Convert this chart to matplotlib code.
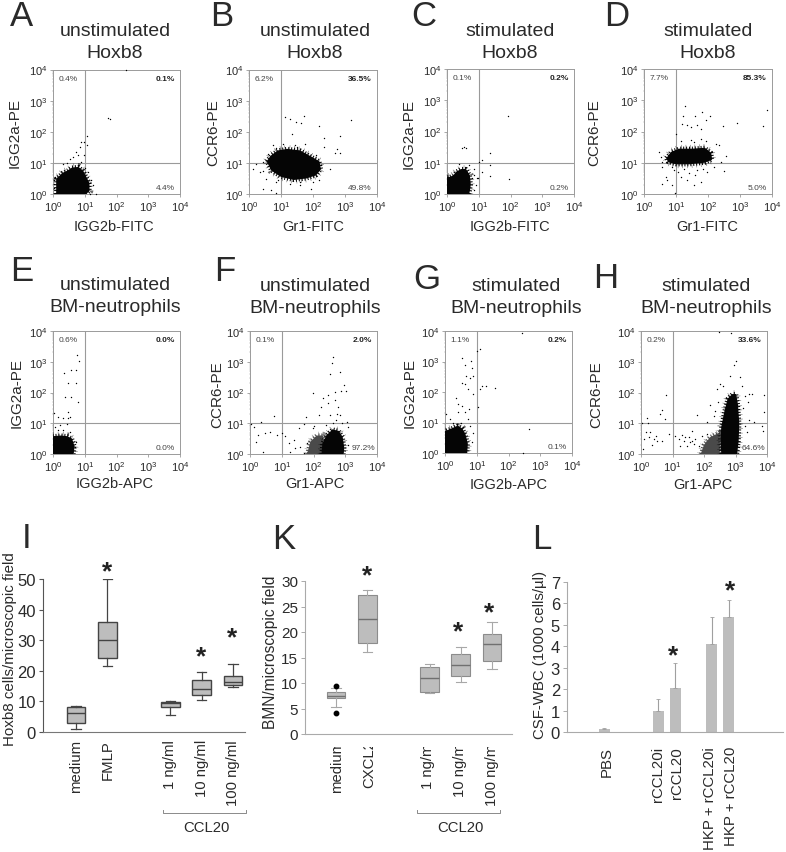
import matplotlib
matplotlib.use('Agg')
import numpy as np
import matplotlib.pyplot as plt
from matplotlib.lines import Line2D
from matplotlib.transforms import Affine2D, Bbox
from matplotlib.ticker import LogLocator, NullFormatter, FixedLocator

plt.rcParams['font.family'] = ['Liberation Sans', 'DejaVu Sans']
plt.rcParams['mathtext.fontset'] = 'custom'
plt.rcParams['mathtext.rm'] = 'Liberation Sans'
plt.rcParams['mathtext.default'] = 'regular'

W, H = 786, 853
TXT = '#2a2a2a'
AXC = '#9a9a9a'

# flow panels: dense population outlines, half dense regions and single events, all in decades
A_dense = [(.1,0),(.1,.5),(.2,.58),(.3,.68),(.45,.75),(.6,.85),(.8,.87),(.95,.75),(1.05,.55),(1.15,.35),(1.15,.1),(1.05,0)]
A_events = [(1.72,2.44),(1.8,2.4),(2.3,4),(1.07,1.85),(.89,1.67),(1.07,1.56),(.99,1.67),(.8,1.24),(.62,1.19),(.89,1.03),
            (.97,1.24),(.73,1.35),(.52,1.13),(.85,1.5),(1.2,.44),(1.35,0),(1.15,0),(1.25,.3),(.3,.95),(.45,.98),(1.1,.7),(1.0,.82),
            (.02,.45),(.04,.2),(.05,.55),(.03,.32)]

B_dense = [(.55,1.05),(.7,1.25),(.9,1.4),(1.2,1.45),(1.6,1.4),(1.95,1.2),(2.2,1.05),(2.25,.8),(2.1,.6),(1.8,.5),(1.4,.45),(1.0,.55),(.7,.75)]
B_events = [(1.11,2.47),(1.27,2.4),(1.48,2.31),(1.61,2.28),(1.72,2.52),(2.2,2.2),(3.2,2.38),(1.35,1.94),(2.33,1.8),(2.85,1.86),
            (2.35,1.51),(2.75,1.45),(2.68,1.33),(2.85,1.33),(.12,.81),(.33,.7),(.44,1.03),(.23,.97),(.7,.12),(.85,.04),(.44,.15),
            (1.58,.28),(1.95,.17),(2.2,.44),(2.52,.81),(1.06,1.61),(1.43,1.56),(1.74,1.61),(.75,1.56),(2.1,1.24),(2.26,.92),
            (.54,.49),(.85,.38),(1.27,.33),(.9,.45),(1.6,.38),(2.0,.4),(.45,.75),(.6,1.3),(.85,1.48),(1.5,1.5)]

C_dense = [(0,0),(0,.55),(.1,.55),(.2,.6),(.3,.72),(.45,.8),(.6,.8),(.72,.6),(.75,.3),(.72,.1),(.7,0)]
C_events = [(1.92,2.49),(.47,1.47),(.59,1.48),(.52,1.49),(1.37,1.31),(1.11,1.08),(1,1.03),(1.37,.94),(1.11,.71),(1.94,.49),
            (1.35,.58),(.95,.52),(.85,.81),(.69,.92),(.38,.95),(.85,.13),(.98,.5),(.8,.5),(.85,.6),(.9,.3)]

D_dense = [(.7,1.15),(.85,1.35),(1.1,1.45),(1.5,1.45),(1.9,1.48),(2.1,1.32),(2.13,1.1),(1.9,1.0),(1.4,.95),(1,.95),(.75,1.02)]
D_events = [(1.28,2.83),(1.23,2.51),(1.59,2.49),(1.82,2.61),(2.06,2.49),(1.18,2.24),(1.35,2.21),(1.46,2.14),(1.67,2.21),
            (1.93,2.38),(2.47,2.19),(2.9,2.26),(3.72,2.19),(3.85,2.7),(.99,1.93),(1.77,2.08),(.52,1.18),(.47,1.34),(.57,1.03),
            (.57,.87),(.68,.55),(.73,.44),(.57,.32),(.89,.29),(.97,.04),(1.15,.55),(1.35,.44),(1.56,.29),(1.77,.39),(.94,.76),
            (1.25,.81),(1.67,.76),(1.98,.71),(2.19,.87),(2.5,.74),(2.55,1.21),(2.4,1.03),(2.34,1.56),(1.77,1.77),(1.46,1.72),
            (1.15,1.69),(.89,.87),(1.05,.7),(1.4,.68),(1.6,.62),(1.85,.8),(1.55,1.65),(1.95,1.7),(2.25,1.6)]

E_dense = [(0,0),(0,.58),(.25,.6),(.45,.58),(.6,.5),(.68,.25),(.65,0)]
E_events = [(.77,3.21),(.83,3.02),(.34,2.65),(.56,2.72),(.71,2.72),(.46,2.31),(.71,2.31),(.39,1.86),(.56,1.84),(.78,1.7),
            (.48,1.37),(.46,1.18),(.55,1.21),(.02,1.32),(.16,1.19),(.32,1.16),(.21,.94),(.05,.89),(.43,.96),(.32,.78),(.16,.78),
            (.53,.72),(.72,.4),(.69,.24)]

F_dense = [(2.25,0),(2.28,.35),(2.4,.6),(2.6,.8),(2.8,.75),(2.92,.55),(2.97,.2),(2.95,0)]
F_half = [(1.8,0),(1.9,.4),(2.1,.6),(2.3,.6),(2.3,0)]
F_events = [(2.61,3.15),(2.58,2.96),(2.51,2.61),(2.85,2.68),(1.99,2),(2.96,2.23),(2.88,2.05),(3.01,2.05),(2.67,2.01),(2.45,1.92),
            (2.29,1.82),(2.67,1.76),(2.24,1.54),(2.45,1.65),(2.77,1.54),(2.18,1.27),(2.51,1.27),(2.83,1.27),(3.04,1.05),(3.1,.89),
            (1.75,1.2),(1.7,.97),(1.54,.84),(.76,1.22),(.35,1.05),(.03,.97),(.14,.89),(.25,.62),(.46,.67),(.62,.73),(.84,.62),
            (.19,.38),(.41,.08),(1,.67),(1.11,.57),(1.22,.35),(1.38,.46),(1.43,.18),(1.27,.08),(1.59,.24),(1.7,.02),(1.81,.35),
            (1.97,.84),(2.02,.92),(3.1,.29),(2.6,1.0),(2.7,1.1),(2.9,1.0),(2.4,.95),(2.75,1.3)]

G_dense = [(0,0),(0,.72),(.2,.8),(.4,.9),(.55,.8),(.65,.6),(.72,.3),(.7,0)]
G_events = [(1.1,3.42),(1.02,3.36),(2.42,3.93),(.53,3.12),(.82,3.01),(.63,2.88),(.86,2.79),(.66,2.54),(.89,2.54),(.79,2.47),
            (.53,2.3),(.63,2.25),(.74,2.09),(.89,1.92),(1.1,2.09),(1.16,2.2),(1.29,2.2),(1.58,2.13),(1.05,1.52),(.34,1.79),
            (.42,1.6),(.53,1.54),(.76,1.43),(.63,1.33),(.42,1.33),(.03,1.27),(.16,1.11),(2.66,.78),(2.47,0),(.89,.67),(.79,.89),
            (.74,1.11),(.84,.35),(.5,1.0),(.25,.98)]

H_dense = [(2.55,0),(2.52,.5),(2.55,.9),(2.65,1.4),(2.75,1.8),(2.9,1.95),(3.02,1.95),(3.08,1.6),(3.12,1),(3.1,.4),(3.05,0)]
H_half = [(1.9,0),(2.0,.3),(2.2,.55),(2.5,.7),(2.5,0)]
H_events = [(3.03,3.04),(2.94,2.88),(2.47,3.97),(2.86,3.92),(2.84,2.55),(2.52,2.28),(3.15,2.5),(3.42,1.96),(3.52,1.96),(3.92,1.92),
            (3.39,1.68),(3.92,1.36),(3.42,1.09),(3.58,1.03),(3.84,.92),(3.87,.76),(3.31,.92),(3.37,.71),(.8,1.93),(.67,1.43),
            (.61,1.3),(.77,1.14),(.19,1.17),(.03,1),(.21,1.01),(.3,.71),(.24,.54),(.4,.49),(.51,.43),(.08,.49),(.05,.16),(.67,.43),
            (.88,.65),(1.09,.6),(1.25,.27),(1.35,.43),(1.51,.54),(1.62,.43),(1.72,.49),(1.46,.27),(1.83,.27),(1.94,.6),(1.62,.76),
            (1.78,1.27),(2.2,1.58),(2.31,1.25),(2.62,1.03),(2.1,1.03),(2.1,.65),(1.4,.55),(1.55,.4),(1.3,.62),(1.68,.32),(1.2,.5),
            (.35,.3),(.48,.58),(.15,.7),(2.4,2.1),(2.6,2.2),(2.45,1.7),(2.35,1.4),(3.25,1.5),(3.3,1.9),(3.2,2.2)]

flow_names = ['A','B','C','D','E','F','G','H']
flow_dense = [A_dense,B_dense,C_dense,D_dense,E_dense,F_dense,G_dense,H_dense]
flow_half = [None,None,None,None,None,F_half,None,H_half]
flow_events = [A_events,B_events,C_events,D_events,E_events,F_events,G_events,H_events]
flow_top = ['unstimulated','unstimulated','stimulated','stimulated','unstimulated','unstimulated','stimulated','stimulated']
flow_bottom = ['Hoxb8']*4 + ['BM-neutrophils']*4
flow_xlabels = ['IGG2b-FITC','Gr1-FITC','IGG2b-FITC','Gr1-FITC','IGG2b-APC','Gr1-APC','IGG2b-APC','Gr1-APC']
flow_ylabels = ['IGG2a-PE','CCR6-PE','IGG2a-PE','CCR6-PE','IGG2a-PE','CCR6-PE','IGG2a-PE','CCR6-PE']
pct_ul = ['0.4%','6.2%','0.1%','7.7%','0.6%','0.1%','1.1%','0.2%']
pct_ur = ['0.1%','36.5%','0.2%','85.3%','0.0%','2.0%','0.2%','33.6%']
pct_lr = ['4.4%','49.8%','0.2%','5.0%','0.0%','97.2%','0.1%','64.6%']

# box panels: whisker low, q1, median, q3, whisker high
I_names = ['medium','FMLP','1 ng/ml','10 ng/ml','100 ng/ml']
I_stats = [(1,3,6.2,8,8.5),(21.5,24,30,36,50),(5.5,8.2,9.5,9.8,10.2),(10.5,12,14,17,19.7),(14.8,15.2,16.2,18.3,22.3)]
I_ticks = [0,10,20,30,40,50]

K_names = ['medium','CXCL2','1 ng/ml','10 ng/ml','100 ng/ml']
K_stats = [(5.2,7,7.5,8.2,9.1),(16.1,17.9,22.5,27.3,28.2),(8,8.2,11,13.2,13.8),(10.2,11.3,13.5,15.6,17.1),(12.8,14.3,17.7,19.7,22)]
K_fliers = [(9.5,4.1),(),(),(),()]
K_ticks = [0,5,10,15,20,25,30]

L_names = ['PBS','rCCL20i','rCCL20','HKP + rCCL20i','HKP + rCCL20']
L_means = [0.13,0.97,2.05,4.1,5.35]
L_errs = [0.05,0.55,1.15,1.25,0.8]
L_ticks = [0,1,2,3,4,5,6,7]

fig = plt.figure(figsize=(W/100, H/100), dpi=100)
# pixels measured from the top left corner of the picture
px = Affine2D().scale(1/W, -1/H).translate(0, 1) + fig.transFigure


def new_axes(x0, y0, x1, y1):
    return fig.add_axes([x0/W, 1-y1/H, (x1-x0)/W, (y1-y0)/H])


def label(x, y, s, size=10.5, **kw):
    kw.setdefault('ha', 'center')
    kw.setdefault('va', 'center')
    kw.setdefault('color', TXT)
    return fig.text(x, y, s, transform=px, fontsize=size, **kw)


def bracket(x0, x1, y):
    fig.add_artist(Line2D([x0, x0, x1, x1], [y-3, y, y, y-3], transform=px, color='#8a8a8a', lw=0.7))


def cloud(ax, outline, color, z):
    # solid region plus a broken edge so it does not read as a clean shape
    ox, oy = zip(*outline)
    ox = 10**np.array(ox + ox[:1])
    oy = 10**np.array(oy + oy[:1])
    ax.fill(ox, oy, color=color, lw=0, zorder=z)
    ax.plot(ox, oy, color=color, lw=3, ls=(0, (0.25, 0.45)), zorder=z)
    ax.plot(ox, oy, color=color, lw=5.5, ls=(0, (0.07, 0.53)), alpha=0.6, zorder=z)


flow_boxes = [(53,70.5,180,195),(249,70.5,377,195),(447,70,574,195),(644,70,772,195),
              (53,332,180,455),(250,332,377,455),(445,332,572,454),(641,332,767,455)]
for i, name in enumerate(flow_names):
    ax = new_axes(*flow_boxes[i])
    ax.set_xscale('log')
    ax.set_yscale('log')
    ax.axvline(10, color=AXC, lw=0.8, zorder=1)
    ax.axhline(10, color=AXC, lw=0.8, zorder=1)
    if flow_half[i] is not None:
        cloud(ax, flow_half[i], '#4a4a4a', 2)
    cloud(ax, flow_dense[i], '#050505', 3)
    ex, ey = zip(*flow_events[i])
    ax.scatter(10**np.array(ex), 10**np.array(ey), s=1.0, c='black', lw=0, zorder=4, clip_on=False)
    ax.set_xlim(1, 1e4)
    ax.set_ylim(1, 1e4)
    ax.tick_params(which='major', length=2, width=0.6, color=AXC, labelsize=8, labelcolor=TXT, pad=2)
    ax.tick_params(which='minor', length=1, width=0.3, color=AXC)
    ax.xaxis.set_major_locator(LogLocator(base=10, numticks=6))
    ax.yaxis.set_major_locator(LogLocator(base=10, numticks=6))
    ax.xaxis.set_minor_formatter(NullFormatter())
    ax.yaxis.set_minor_formatter(NullFormatter())
    for s in ax.spines.values():
        s.set_color(AXC)
        s.set_linewidth(0.7)
    ax.text(.117, .93, pct_ul[i], transform=ax.transAxes, fontsize=6, color='#444444', ha='center', va='center')
    ax.text(.96, .93, pct_ur[i], transform=ax.transAxes, fontsize=6, color='#222222', ha='right', va='center', fontweight='bold', zorder=6)
    ax.text(.99 if i in (5, 7) else .96, .055, pct_lr[i], transform=ax.transAxes, fontsize=6, color='#444444', ha='right', va='center', zorder=6)

title_x = [115,315,510,708,115,315,516,706]
title_y = [32,32,32,32,286,287,287,287]
xlab_x = [114,313,510,707,115,315,509,703]
xlab_y = [227,227,227,227,484,484,485,485]
ylab_x = [15,213,409,594,17,217,410,596]
ylab_y = [133,133,134,133,393,395,393,395]
letter_x = [22,222,424,617,22,225,427,606]
letter_y = [17,17,17,17,272,272,280,279]
for i, name in enumerate(flow_names):
    label(title_x[i], title_y[i], flow_top[i], size=14)
    label(title_x[i], title_y[i]+22, flow_bottom[i], size=14)
    label(xlab_x[i], xlab_y[i], flow_xlabels[i])
    label(ylab_x[i], ylab_y[i], flow_ylabels[i], size=11, rotation=90)
    label(letter_x[i], letter_y[i], name, size=25)


def box_stats(names, stats, fliers=None):
    out = []
    for j, n in enumerate(names):
        lo, q1, med, q3, hi = stats[j]
        out.append(dict(label=n, whislo=lo, q1=q1, med=med, q3=q3, whishi=hi,
                        fliers=list(fliers[j]) if fliers else []))
    return out


# panel I
box_pos = [1, 2, 4, 5, 6]
ax = new_axes(43, 580, 245, 732.7)
ec = '#444444'
ax.bxp(box_stats(I_names, I_stats), positions=box_pos, widths=0.6, patch_artist=True,
       boxprops=dict(facecolor='#bdbdbd', edgecolor=ec, lw=1.0), medianprops=dict(color=ec, lw=1.0),
       whiskerprops=dict(color=ec, lw=0.9), capprops=dict(color=ec, lw=0.9), capwidths=0.3)
ax.set_xlim(-0.05, 6.38)
ax.set_ylim(0, 50)
ax.yaxis.set_major_locator(FixedLocator(I_ticks))
ax.set_xticks([])
ax.tick_params(axis='y', labelsize=12, length=3, width=0.8, color='#555555', labelcolor=TXT, pad=2)
ax.spines[['top', 'right']].set_visible(False)
ax.spines['left'].set_color('#555555')
ax.spines['bottom'].set_color('#777777')
for xp, n in zip([76, 108, 170, 202, 233], I_names):
    label(xp, 740, n, size=10.7, rotation=90, va='top')
label(10, 649, 'Hoxb8 cells/microscopic field', size=10.9, rotation=90)
label(27, 539, 'I', size=25)
bracket(163, 246, 814)
label(206, 828, 'CCL20', size=10.7)
for xs, ys in [(107, 572), (201, 657), (232, 638)]:
    label(xs, ys, '*', size=19, color='#222222', fontweight='bold')

# panel K
ax = new_axes(305, 582, 512, 735)
ec = '#8c8c8c'
ax.bxp(box_stats(K_names, K_stats, K_fliers), positions=box_pos, widths=0.6, patch_artist=True,
       boxprops=dict(facecolor='#bdbdbd', edgecolor=ec, lw=0.8), medianprops=dict(color='#707070', lw=1.0),
       whiskerprops=dict(color='#a8a8a8', lw=0.8), capprops=dict(color='#a8a8a8', lw=0.8), capwidths=0.3,
       flierprops=dict(marker='o', markerfacecolor='black', markeredgecolor='black', markersize=3.2))
ax.set_xlim(0.006, 6.64)
ax.set_ylim(0, 30)
ax.yaxis.set_major_locator(FixedLocator(K_ticks))
ax.set_xticks([])
ax.tick_params(axis='y', labelsize=11, length=3, width=0.7, color='#aaaaaa', labelcolor=TXT, pad=2)
ax.spines[['top', 'right']].set_visible(False)
ax.spines['left'].set_color('#aaaaaa')
ax.spines['bottom'].set_color('#aaaaaa')
clip = Bbox.from_extents(0, 0, W, H-748)
for xp, n in zip([337, 369, 428, 460, 492], K_names):
    t = label(xp, 740, n, size=10.7, rotation=90, va='top')
    t.set_clip_box(clip)
    t.set_clip_on(True)
label(270, 652, 'BMN/microscopic field', size=11.2, rotation=90)
label(284, 540, 'K', size=25)
bracket(417, 500, 814)
label(460, 828, 'CCL20', size=10.7)
for xs, ys in [(367, 576), (458, 632), (489, 613)]:
    label(xs, ys, '*', size=19, color='#222222', fontweight='bold')

# panel L
ax = new_axes(567, 583, 783, 733)
bar_x = [0, 3.17, 4.17, 6.3, 7.3]
ax.bar(bar_x, L_means, width=0.68, color='#bdbdbd', yerr=[np.zeros(5), L_errs],
       error_kw=dict(ecolor='#a0a0a0', lw=0.8, capsize=1.5, capthick=0.6))
ax.set_xlim(-2.2, 10.5)
ax.set_ylim(0, 7)
ax.yaxis.set_major_locator(FixedLocator(L_ticks))
ax.set_xticks([])
ax.tick_params(axis='y', labelsize=12, length=3, width=0.7, color='#aaaaaa', labelcolor=TXT, pad=2)
ax.spines[['top', 'right']].set_visible(False)
ax.spines['left'].set_color('#aaaaaa')
ax.spines['bottom'].set_color('#aaaaaa')
for xp, n in zip([607, 658, 677, 710, 731], L_names):
    label(xp, 747, n, size=10.8, rotation=90, va='top')
label(540, 655, 'CSF-WBC (1000 cells/µl)', size=10.8, rotation=90)
label(542, 540, 'L', size=25)
for xs, ys in [(673, 656), (730, 591)]:
    label(xs, ys, '*', size=19, color='#222222', fontweight='bold')

fig.savefig('out.png', dpi=100)
